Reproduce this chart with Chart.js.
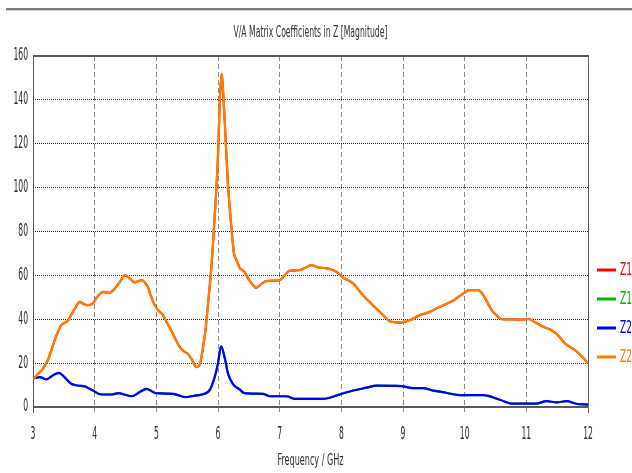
<!DOCTYPE html>
<html>
<head>
<meta charset="utf-8">
<script src="https://cdn.jsdelivr.net/npm/chart.js@4"></script>
<style>
html,body{margin:0;padding:0;background:#fff;}
#wrap{width:632px;height:473px;position:relative;}
</style>
</head>
<body>
<div id="wrap"><canvas id="c" width="632" height="473"></canvas></div>
<script>
// ---- data ----
const chartTitle = 'V/A Matrix Coefficients in Z [Magnitude]';
const xAxisTitle = 'Frequency / GHz';
const xTicks = [3, 4, 5, 6, 7, 8, 9, 10, 11, 12];
const yTicks = [0, 20, 40, 60, 80, 100, 120, 140, 160];
const seriesLabels = ['Z1', 'Z1', 'Z2', 'Z2'];
const seriesColors = ['#ff0000', '#00b000', '#0000ff', '#ff8000'];

// Z2 (orange) magnitude
const orangeFreq = [3.00,3.08,3.16,3.24,3.30,3.35,3.40,3.46,3.52,3.57,3.62,3.68,3.76,3.82,3.89,3.97,4.05,4.14,4.24,4.35,4.42,4.49,4.57,4.65,4.72,4.77,4.82,4.86,4.92,4.99,5.05,5.11,5.17,5.24,5.31,5.38,5.45,5.51,5.58,5.65,5.70,5.76,5.80,5.84,5.89,5.95,6.00,6.03,6.06,6.08,6.11,6.16,6.22,6.26,6.30,6.35,6.43,6.50,6.57,6.62,6.70,6.78,6.90,7.00,7.08,7.16,7.32,7.42,7.51,7.65,7.78,7.86,7.95,8.03,8.19,8.35,8.51,8.68,8.78,8.88,8.97,9.05,9.11,9.27,9.43,9.59,9.70,9.81,9.94,10.08,10.22,10.32,10.40,10.46,10.53,10.60,10.81,10.95,11.03,11.16,11.28,11.41,11.52,11.62,11.70,11.78,11.90,12.00];
const orangeVal  = [12.5,15,17.5,21.3,26,30.4,34,37.3,38.5,39.5,42,44.9,47.9,47,46.4,47.2,50.5,52.5,52.0,54.8,57.5,60.1,58.5,56.8,57.5,57.8,56.5,54.8,50,45.6,43.5,41.8,38.5,35.0,31,27.3,25.3,24.3,21.5,18.2,19,27.7,36,47.5,62.7,88.6,114.5,140.4,151.9,145,129.7,102.3,81,70,67,63.5,61.6,58,55.5,54.3,56,57.4,57.6,57.8,60,62.1,62.4,63.5,64.7,63.5,63.2,62.4,61,59,56.3,51,46.4,41.8,39.2,38.6,38.5,39,39.5,41.8,43.3,45.6,47,48.4,51,53.3,53.3,50.2,46,43.3,41.5,40,39.9,39.8,40.2,38.3,36.5,35,32.5,29.2,27.5,26.1,23,20];

// Z2 (blue) magnitude
const blueFreq = [3.00,3.11,3.22,3.32,3.42,3.51,3.62,3.73,3.84,3.97,4.11,4.27,4.39,4.49,4.60,4.73,4.84,4.92,4.99,5.27,5.48,5.65,5.78,5.87,5.95,6.00,6.05,6.11,6.16,6.24,6.35,6.43,6.73,6.84,7.11,7.24,7.70,7.97,8.19,8.41,8.57,8.97,9.16,9.32,9.49,9.70,9.92,10.30,10.57,10.78,11.16,11.33,11.49,11.65,11.81,12.00];
const blueVal  = [13,13.6,12.6,14.4,15.6,13.6,10.6,9.8,9.4,7.5,5.7,5.7,6.3,5.6,4.9,6.8,8.3,7.3,6.3,6.0,4.5,5.3,6.0,7.9,14,20,27.7,22.3,15.5,10.5,8,6.3,6.0,4.9,4.9,3.7,3.7,5.7,7.5,8.8,9.7,9.5,8.6,8.6,7.5,6.5,5.4,5.4,3.3,1.5,1.5,2.7,2.1,2.7,1.5,1.1];

// Z1 series coincide with the Z2 curves (hidden underneath in the reference)
const redFreq = orangeFreq, redVal = orangeVal;
const greenFreq = blueFreq, greenVal = blueVal;

// ---- helpers ----
const toXY = (xs, ys) => xs.map((x, i) => ({x: x, y: ys[i]}));
const FONT = "'DejaVu Sans Condensed','DejaVu Sans',sans-serif";
const NARROW = 0.5; // horizontal squeeze of the axis tick text (narrow UI font in the reference)

let squeeze = false;
const decorPlugin = {
  id: 'decor',
  beforeInit(chart) {
    const ctx = chart.ctx;
    const orig = ctx.fillText.bind(ctx);
    ctx.fillText = function (text, x, y, maxWidth) {
      if (squeeze) {
        const w = ctx.measureText(text).width * NARROW;
        return orig(text, x, y, maxWidth !== undefined ? Math.min(maxWidth, w) : w);
      }
      return maxWidth !== undefined ? orig(text, x, y, maxWidth) : orig(text, x, y);
    };
  },
  beforeDraw(chart) {
    const ctx = chart.ctx;
    ctx.save();
    ctx.fillStyle = '#ffffff';
    ctx.fillRect(0, 0, chart.width, chart.height);
    ctx.fillStyle = '#7a7a7a';
    ctx.fillRect(6, 8, chart.width - 6, 2);
    ctx.fillStyle = '#d0d0d0';
    ctx.fillRect(6, 10, chart.width - 6, 1);
    ctx.restore();
    squeeze = true;
  },
  beforeDatasetsDraw(chart) {
    squeeze = false;
    const ctx = chart.ctx, a = chart.chartArea;
    ctx.save();
    ctx.setLineDash([]);
    ctx.strokeStyle = '#5a5a5a';
    ctx.lineWidth = 2;
    ctx.beginPath(); ctx.moveTo(a.left, a.top); ctx.lineTo(a.right + 1, a.top); ctx.stroke();
    ctx.beginPath(); ctx.moveTo(a.left, a.bottom); ctx.lineTo(a.right + 1, a.bottom); ctx.stroke();
    ctx.lineWidth = 1;
    ctx.strokeStyle = '#555';
    ctx.beginPath(); ctx.moveTo(Math.round(a.left) + 0.5, a.top); ctx.lineTo(Math.round(a.left) + 0.5, a.bottom + 6); ctx.stroke();
    ctx.strokeStyle = '#666';
    ctx.beginPath(); ctx.moveTo(Math.round(a.right) + 0.5, a.top); ctx.lineTo(Math.round(a.right) + 0.5, a.bottom + 6); ctx.stroke();
    ctx.restore();
  },
  afterDraw(chart) {
    squeeze = false;
    const ctx = chart.ctx, a = chart.chartArea;
    ctx.save();
    ctx.fillStyle = '#333';
    ctx.textAlign = 'center';
    ctx.textBaseline = 'middle';
    ctx.font = '16px ' + FONT;
    ctx.fillText(chartTitle, (a.left + a.right) / 2, 33, 154);
    ctx.font = '16px ' + FONT;
    ctx.fillText(xAxisTitle, (a.left + a.right) / 2, 461, 66);
    // legend
    const ys = [270, 299, 328, 357];
    ctx.textAlign = 'left';
    ctx.font = '17px ' + FONT;
    seriesLabels.forEach((lab, i) => {
      ctx.strokeStyle = seriesColors[i];
      ctx.fillStyle = seriesColors[i];
      ctx.lineWidth = 3;
      ctx.beginPath(); ctx.moveTo(597, ys[i]); ctx.lineTo(616, ys[i]); ctx.stroke();
      ctx.fillText(lab, 620, ys[i] + 1, 12);
    });
    ctx.restore();
  }
};

const ds = (label, color, xs, ys, order) => ({
  label: label,
  data: toXY(xs, ys),
  borderColor: color,
  backgroundColor: color,
  borderWidth: 2.2,
  pointRadius: 0,
  tension: 0,
  cubicInterpolationMode: 'monotone',
  fill: false,
  order: order
});

new Chart(document.getElementById('c'), {
  type: 'line',
  data: {
    datasets: [
      ds(seriesLabels[0], seriesColors[0], redFreq, redVal, 2),
      ds(seriesLabels[1], seriesColors[1], greenFreq, greenVal, 2),
      ds(seriesLabels[2], seriesColors[2], blueFreq, blueVal, 1),
      ds(seriesLabels[3], seriesColors[3], orangeFreq, orangeVal, 0)
    ]
  },
  options: {
    responsive: false,
    animation: false,
    devicePixelRatio: 1,
    layout: {padding: {left: 0, right: 44, top: 56, bottom: 0}},
    plugins: {legend: {display: false}, title: {display: false}, tooltip: {enabled: false}},
    scales: {
      x: {
        type: 'linear',
        min: xTicks[0], max: xTicks[xTicks.length - 1],
        afterBuildTicks: s => { s.ticks = xTicks.map(v => ({value: v})); },
        afterFit: s => { s.height = 66; },
        ticks: {color: '#2b2b2b', font: {family: FONT, size: 17}, padding: 11, maxRotation: 0},
        grid: {
          color: c => (c.tick && (c.tick.value === 3 || c.tick.value === 12)) ? 'rgba(0,0,0,0)' : '#8a8a8a',
          lineWidth: 1,
          drawTicks: true, tickLength: 6,
          tickColor: c => (c.tick && (c.tick.value === 3 || c.tick.value === 12)) ? 'rgba(0,0,0,0)' : '#8a8a8a',
          tickBorderDash: [5, 3]
        },
        border: {display: false, dash: [5, 3]}
      },
      y: {
        min: yTicks[0], max: yTicks[yTicks.length - 1],
        afterBuildTicks: s => { s.ticks = yTicks.map(v => ({value: v})); },
        afterFit: s => { s.width = 33; },
        ticks: {color: '#2b2b2b', font: {family: FONT, size: 17}, padding: 5},
        grid: {
          color: c => (c.tick && (c.tick.value === 0 || c.tick.value === 160)) ? 'rgba(0,0,0,0)' : '#222',
          lineWidth: 1,
          drawTicks: false
        },
        border: {display: false, dash: [1, 1]}
      }
    }
  },
  plugins: [decorPlugin]
});
</script>
</body>
</html>
